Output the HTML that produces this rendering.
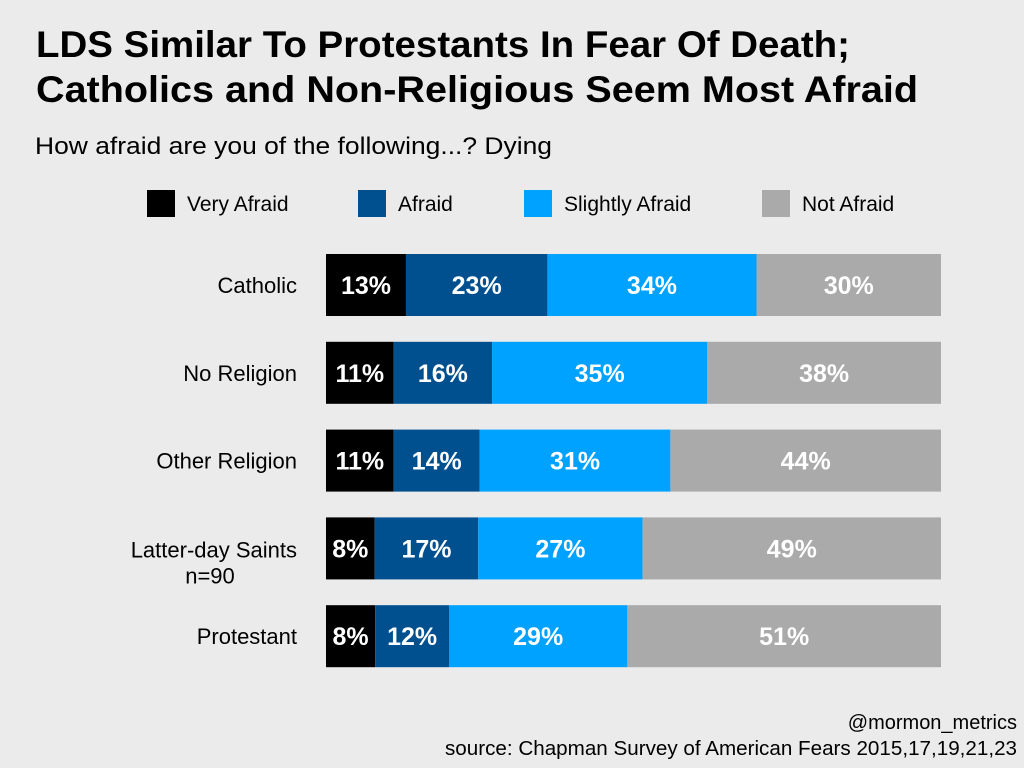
<!DOCTYPE html>
<html><head><meta charset="utf-8"><style>
html,body{margin:0;padding:0;background:#ebebeb;}
svg{display:block;font-family:"Liberation Sans",sans-serif;}
</style></head><body>
<svg id="chart" width="1024" height="768" viewBox="0 0 1024 768">
<rect width="1024" height="768" fill="#ebebeb"/>
<text x="36" y="57" font-size="37" font-weight="bold" fill="#000" textLength="814" lengthAdjust="spacingAndGlyphs">LDS Similar To Protestants In Fear Of Death;</text>
<text x="36" y="102" font-size="37" font-weight="bold" fill="#000" textLength="882" lengthAdjust="spacingAndGlyphs">Catholics and Non-Religious Seem Most Afraid</text>
<text x="35" y="154" font-size="24" fill="#000" textLength="517" lengthAdjust="spacingAndGlyphs">How afraid are you of the following...? Dying</text>
<g id="legend"></g>
<g id="bars"></g>
<text x="1017" y="729" font-size="20" text-anchor="end" fill="#000">@mormon_metrics</text>
<text x="1017" y="755" font-size="20" text-anchor="end" fill="#000" textLength="572" lengthAdjust="spacingAndGlyphs">source: Chapman Survey of American Fears 2015,17,19,21,23</text>
</svg>
<script>
const categories = ["Catholic","No Religion","Other Religion","Latter-day Saints|n=90","Protestant"];
const seriesNames = ["Very Afraid","Afraid","Slightly Afraid","Not Afraid"];
const veryAfraid = [13,11,11,8,8];
const afraid = [23,16,14,17,12];
const slightlyAfraid = [34,35,31,27,29];
const notAfraid = [30,38,44,49,51];
const series = [veryAfraid, afraid, slightlyAfraid, notAfraid];
const colors = ["#000000","#00508f","#00a2ff","#aaaaaa"];
const NS = "http://www.w3.org/2000/svg";
const x0 = 326, x1 = 941;
const xScale = (v, total) => (x1 - x0) * v / total;
const yTop = i => 254 + i * 87.8;
const barH = 62;
function mk(tag, attrs, parent){const e=document.createElementNS(NS,tag);for(const k in attrs)e.setAttribute(k,attrs[k]);parent.appendChild(e);return e;}
const legend = document.getElementById('legend');
const legX = [147,358,524,762];
seriesNames.forEach((n,i)=>{
  const g = mk('g',{},legend);
  
  
  mk('rect',{x:legX[i],y:190,width:28,height:27,fill:colors[i]},g);
  const t = mk('text',{x:legX[i]+40,y:211,'font-size':21,fill:'#000'},g);
  t.textContent = n;
});
const bars = document.getElementById('bars');
categories.forEach((c,i)=>{
  const y = yTop(i);
  const parts = c.split('|');
  const lbl = mk('text',{x:297,'text-anchor':'end','font-size':22,fill:'#000'},bars);
  
  
  parts.forEach((p,j)=>{
    const ts = mk('tspan',{x:parts.length>1&&j==1?210:297,y:parts.length>1? y+40+j*26 : y+39},lbl);
    if(parts.length>1&&j==1) ts.setAttribute('text-anchor','middle');
    ts.textContent = p;
  });
  const total = series.reduce((a,s)=>a+s[i],0);
  let acc = 0;
  series.forEach((s,k)=>{
    const v = s[i];
    const r = mk('rect',{x:x0+xScale(acc,total),y:y,width:xScale(v,total),height:barH,fill:colors[k]},bars);
    
    
    const t = mk('text',{x:x0+xScale(acc+v/2,total),y:y+40,'text-anchor':'middle','font-size':25,'font-weight':'bold',fill:'#fff'},bars);
    
    
    t.textContent = v + '%';
    acc += v;
  });
});
</script>
</body></html>
